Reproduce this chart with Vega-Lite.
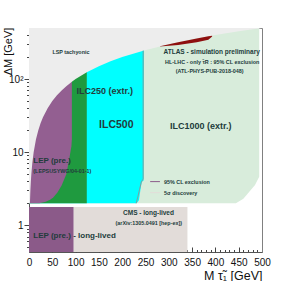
{
  "$schema": "https://vega.github.io/schema/vega-lite/v6.json",
  "width": 233,
  "height": 224,
  "autosize": "none",
  "padding": {"left": 29, "top": 28, "right": 30, "bottom": 29},
  "background": "white",
  "config": {
    "view": {"stroke": null},
    "font": "Liberation Sans",
    "axis": {"grid": false, "zindex": 1, "domainColor": "#555", "tickColor": "#444", "labelFont": "Liberation Sans", "labelFontSize": 10, "labelColor": "#111", "titleFont": "Liberation Sans", "titleFontWeight": "normal", "titleFontSize": 11, "titleColor": "#111", "labelOverlap": false, "labelFlush": false}
  },
  "resolve": {"axis": {"x": "independent", "y": "independent"}},
  "datasets": {
    "ilc1000": [
      {"dm": 2.0, "xl": 0, "xr": 444}, {"dm": 2.3, "xl": 0, "xr": 460}, {"dm": 2.74, "xl": 0, "xr": 470},
      {"dm": 3.56, "xl": 0, "xr": 485}, {"dm": 4.6, "xl": 0, "xr": 494}, {"dm": 500, "xl": 0, "xr": 494}
    ],
    "ilc500": [
      {"dm": 2.0, "xl": 0, "xr": 231}, {"dm": 2.2, "xl": 0, "xr": 236}, {"dm": 3.0, "xl": 0, "xr": 239},
      {"dm": 3.9, "xl": 0, "xr": 242}, {"dm": 4.1, "xl": 0, "xr": 246}, {"dm": 500, "xl": 0, "xr": 247}
    ],
    "ilc250": [
      {"dm": 2.0, "xl": 0, "xr": 124}, {"dm": 500, "xl": 0, "xr": 124}
    ],
    "lep": [
      {"dm": 2.0, "xl": 0, "xr": 22}, {"dm": 2.1, "xl": 0, "xr": 36}, {"dm": 2.25, "xl": 0, "xr": 46},
      {"dm": 2.4, "xl": 0, "xr": 52}, {"dm": 2.8, "xl": 0, "xr": 61}, {"dm": 3.5, "xl": 0, "xr": 70},
      {"dm": 5, "xl": 0, "xr": 80}, {"dm": 7.8, "xl": 0, "xr": 86}, {"dm": 12, "xl": 0, "xr": 91},
      {"dm": 15, "xl": 0, "xr": 92}, {"dm": 500, "xl": 0, "xr": 92}
    ],
    "bands": [
      {"r": "lep", "x1": 0, "x2": 96, "y1": 0.43, "y2": 1.777},
      {"r": "cms", "x1": 96, "x2": 340, "y1": 0.43, "y2": 1.777}
    ],
    "tachy": [
      {"m": 0, "lo": 2, "hi": 500}, {"m": 2, "lo": 2, "hi": 500}, {"m": 3, "lo": 3, "hi": 500},
      {"m": 4, "lo": 4, "hi": 500}, {"m": 5, "lo": 5, "hi": 500}, {"m": 7, "lo": 7, "hi": 500},
      {"m": 10, "lo": 10, "hi": 500}, {"m": 15, "lo": 15, "hi": 500}, {"m": 20, "lo": 20, "hi": 500},
      {"m": 25, "lo": 25, "hi": 500}, {"m": 30, "lo": 30, "hi": 500}, {"m": 40, "lo": 40, "hi": 500},
      {"m": 50, "lo": 50, "hi": 500}, {"m": 60, "lo": 60, "hi": 500}, {"m": 70, "lo": 70, "hi": 500},
      {"m": 80, "lo": 80, "hi": 500}, {"m": 92, "lo": 92, "hi": 500}, {"m": 100, "lo": 100, "hi": 500},
      {"m": 124, "lo": 124, "hi": 500}, {"m": 150, "lo": 150, "hi": 500}, {"m": 175, "lo": 175, "hi": 500},
      {"m": 200, "lo": 200, "hi": 500}, {"m": 247, "lo": 247, "hi": 500}, {"m": 300, "lo": 300, "hi": 500},
      {"m": 350, "lo": 350, "hi": 500}, {"m": 400, "lo": 400, "hi": 500}, {"m": 450, "lo": 450, "hi": 500},
      {"m": 500, "lo": 500, "hi": 500}
    ],
    "atlas": [
      {"m": 281, "lo": 280, "hi": 281}, {"m": 320, "lo": 292, "hi": 320}, {"m": 360, "lo": 320, "hi": 360},
      {"m": 385, "lo": 346, "hi": 385}, {"m": 393, "lo": 383, "hi": 393}
    ],
    "disc": [
      {"i": 1, "m": 230, "dm": 2.0}, {"i": 2, "m": 234, "dm": 2.5}, {"i": 3, "m": 237, "dm": 3.05},
      {"i": 4, "m": 241, "dm": 3.9}, {"i": 5, "m": 245, "dm": 4.3}, {"i": 6, "m": 245, "dm": 245}
    ],
    "legend": [
      {"k": "excl", "m": 260, "dm": 3.95}, {"k": "excl", "m": 281, "dm": 3.95},
      {"k": "disc", "m": 260, "dm": 2.79}, {"k": "disc", "m": 281, "dm": 2.79}
    ],
    "labels": [
      {"g": "big", "m": 187.3, "dm": 23.5, "t": "ILC500"},
      {"g": "mid", "m": 162.4, "dm": 69.4, "t": "ILC250 (extr.)"},
      {"g": "mid", "m": 368.7, "dm": 22.8, "t": "ILC1000 (extr.)"},
      {"g": "lepL", "m": 9.2, "dm": 7.65, "t": "LEP (pre.)"},
      {"g": "lepL", "m": 9.2, "dm": 0.714, "t": "LEP (pre.) - long-lived"},
      {"g": "hdr", "m": 392, "dm": 233, "t": "ATLAS - simulation preliminary"},
      {"g": "hdr", "m": 256.4, "dm": 1.49, "t": "CMS - long-lived"},
      {"g": "smallC", "m": 90, "dm": 237, "t": "LSP tachyonic"},
      {"g": "smallC", "m": 393, "dm": 171, "t": "HL-LHC - only τ̃R : 95% CL exclusion"},
      {"g": "smallC", "m": 387.7, "dm": 130, "t": "(ATL-PHYS-PUB-2018-048)"},
      {"g": "smallC", "m": 257, "dm": 1.06, "t": "(arXiv:1305.0491 [hep-ex])"},
      {"g": "smallL", "m": 9.2, "dm": 5.53, "t": "(LEPSUSYWG/04-01-1)"},
      {"g": "smallL", "m": 289.7, "dm": 3.95, "t": "95% CL exclusion"},
      {"g": "smallL", "m": 289.7, "dm": 2.79, "t": "5σ discovery"}
    ]
  },
  "layer": [
    {
      "data": {"name": "ilc1000"},
      "mark": {"type": "area", "orient": "horizontal", "color": "#d8ecdb", "clip": true},
      "encoding": {
        "y": {"field": "dm", "type": "quantitative", "scale": {"type": "log", "domain": [0.43, 500], "nice": false},
          "axis": {
            "orient": "left",
            "values": [0.5, 0.6, 0.7, 0.8, 0.9, 2, 3, 4, 5, 6, 7, 8, 9, 20, 30, 40, 50, 60, 70, 80, 90, 200, 300, 400],
            "labels": false, "tickSize": 2.5, "domain": true, "title": null
          }},
        "x": {"field": "xl", "type": "quantitative", "scale": {"type": "linear", "domain": [0, 500], "nice": false, "zero": false},
          "axis": {
            "orient": "bottom",
            "values": [10,20,30,40,60,70,80,90,110,120,130,140,160,170,180,190,210,220,230,240,260,270,280,290,310,320,330,340,360,370,380,390,410,420,430,440,460,470,480,490],
            "labels": false, "tickSize": -2.5, "domain": true, "title": null
          }},
        "x2": {"field": "xr"}
      }
    },
    {
      "data": {"name": "ilc500"},
      "mark": {"type": "area", "orient": "horizontal", "color": "#00ffff", "clip": true},
      "encoding": {
        "y": {"field": "dm", "type": "quantitative",
          "axis": {
            "orient": "left",
            "values": [1, 10, 100],
            "labelExpr": "datum.value == 100 ? '10²' : datum.label",
            "tickSize": 5, "labelPadding": 1, "domain": false,
            "title": "ΔM [GeV]", "titleAngle": 270, "titleAlign": "center", "titleBaseline": "middle", "titleX": -21, "titleY": 23
          }},
        "x": {"field": "xl", "type": "quantitative",
          "axis": {
            "orient": "bottom",
            "values": [0, 50, 100, 150, 200, 250, 300, 350, 400, 450, 500],
            "tickSize": -5, "labelPadding": 10, "domain": false,
            "title": "M τ̃₁ [GeV]", "titleFontSize": 12.5, "titleAlign": "right", "titleBaseline": "middle", "titleX": 233, "titleY": 23
          }},
        "x2": {"field": "xr"}
      }
    },
    {
      "data": {"name": "ilc250"},
      "mark": {"type": "area", "orient": "horizontal", "color": "#1f9a3f", "clip": true},
      "encoding": {
        "y": {"field": "dm", "type": "quantitative",
          "axis": {"orient": "right", "values": [], "ticks": false, "labels": false, "domain": true, "domainColor": "#808080", "title": null}},
        "x": {"field": "xl", "type": "quantitative",
          "axis": {"orient": "top", "values": [], "ticks": false, "labels": false, "domain": true, "domainColor": "#808080", "title": null}},
        "x2": {"field": "xr"}
      }
    },
    {
      "data": {"name": "lep"},
      "mark": {"type": "area", "orient": "horizontal", "color": "#935f91", "clip": true},
      "encoding": {
        "y": {"field": "dm", "type": "quantitative", "axis": null},
        "x": {"field": "xl", "type": "quantitative", "axis": null},
        "x2": {"field": "xr"}
      }
    },
    {
      "data": {"name": "bands"},
      "mark": {"type": "rect", "clip": true},
      "encoding": {
        "x": {"field": "x1", "type": "quantitative", "axis": null},
        "x2": {"field": "x2"},
        "y": {"field": "y1", "type": "quantitative", "axis": null},
        "y2": {"field": "y2"},
        "color": {"field": "r", "type": "nominal", "scale": {"domain": ["lep", "cms"], "range": ["#8b5a89", "#e2dcd9"]}, "legend": null}
      }
    },
    {
      "data": {"name": "tachy"},
      "mark": {"type": "area", "color": "#ededed", "clip": true},
      "encoding": {
        "x": {"field": "m", "type": "quantitative", "axis": null},
        "y": {"field": "lo", "type": "quantitative", "axis": null},
        "y2": {"field": "hi"}
      }
    },
    {
      "data": {"name": "atlas"},
      "mark": {"type": "area", "color": "#8e0f0f", "clip": true},
      "encoding": {
        "x": {"field": "m", "type": "quantitative", "axis": null},
        "y": {"field": "lo", "type": "quantitative", "axis": null},
        "y2": {"field": "hi"}
      }
    },
    {
      "data": {"name": "disc"},
      "mark": {"type": "line", "color": "#7f9f9f", "strokeWidth": 1, "clip": true},
      "encoding": {
        "x": {"field": "m", "type": "quantitative", "axis": null},
        "y": {"field": "dm", "type": "quantitative", "axis": null},
        "order": {"field": "i"}
      }
    },
    {
      "data": {"name": "legend"},
      "mark": {"type": "line", "strokeWidth": 1},
      "encoding": {
        "x": {"field": "m", "type": "quantitative", "axis": null},
        "y": {"field": "dm", "type": "quantitative", "axis": null},
        "color": {"field": "k", "type": "nominal", "scale": {"domain": ["excl", "disc"], "range": ["#22dddd", "#7f9f9f"]}, "legend": null}
      }
    },
    {
      "data": {"name": "labels"},
      "transform": [{"filter": "datum.g == 'big'"}],
      "mark": {"type": "text", "fontSize": 10.5, "fontWeight": "bold", "align": "center", "baseline": "middle", "color": "#223c3c"},
      "encoding": {"x": {"field": "m", "type": "quantitative", "axis": null}, "y": {"field": "dm", "type": "quantitative", "axis": null}, "text": {"field": "t"}}
    },
    {
      "data": {"name": "labels"},
      "transform": [{"filter": "datum.g == 'mid'"}],
      "mark": {"type": "text", "fontSize": 9, "fontWeight": "bold", "align": "center", "baseline": "middle", "color": "#223c3c"},
      "encoding": {"x": {"field": "m", "type": "quantitative", "axis": null}, "y": {"field": "dm", "type": "quantitative", "axis": null}, "text": {"field": "t"}}
    },
    {
      "data": {"name": "labels"},
      "transform": [{"filter": "datum.g == 'lepL'"}],
      "mark": {"type": "text", "fontSize": 8, "fontWeight": "bold", "align": "left", "baseline": "middle", "color": "#223c3c"},
      "encoding": {"x": {"field": "m", "type": "quantitative", "axis": null}, "y": {"field": "dm", "type": "quantitative", "axis": null}, "text": {"field": "t"}}
    },
    {
      "data": {"name": "labels"},
      "transform": [{"filter": "datum.g == 'hdr'"}],
      "mark": {"type": "text", "fontSize": 6.5, "fontWeight": "bold", "align": "center", "baseline": "middle", "color": "#223c3c"},
      "encoding": {"x": {"field": "m", "type": "quantitative", "axis": null}, "y": {"field": "dm", "type": "quantitative", "axis": null}, "text": {"field": "t"}}
    },
    {
      "data": {"name": "labels"},
      "transform": [{"filter": "datum.g == 'smallC'"}],
      "mark": {"type": "text", "fontSize": 5.4, "fontWeight": "bold", "align": "center", "baseline": "middle", "color": "#223c3c"},
      "encoding": {"x": {"field": "m", "type": "quantitative", "axis": null}, "y": {"field": "dm", "type": "quantitative", "axis": null}, "text": {"field": "t"}}
    },
    {
      "data": {"name": "labels"},
      "transform": [{"filter": "datum.g == 'smallL'"}],
      "mark": {"type": "text", "fontSize": 5.4, "fontWeight": "bold", "align": "left", "baseline": "middle", "color": "#223c3c"},
      "encoding": {"x": {"field": "m", "type": "quantitative", "axis": null}, "y": {"field": "dm", "type": "quantitative", "axis": null}, "text": {"field": "t"}}
    }
  ]
}
